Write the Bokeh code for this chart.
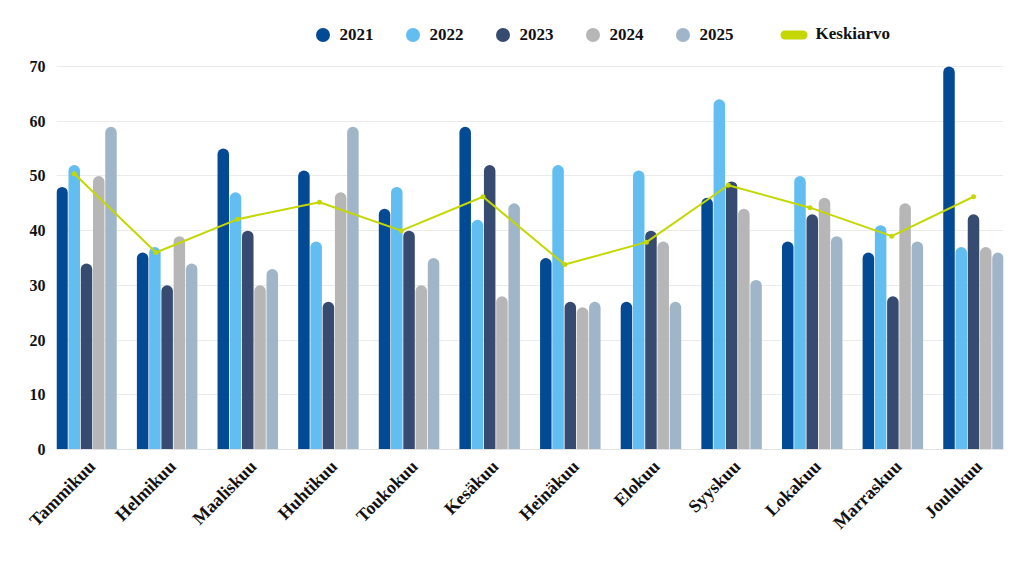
import math
from bokeh.plotting import figure
from bokeh.models import Range1d, FixedTicker, Legend, LegendItem, ColumnDataSource
from bokeh.embed import file_html
from bokeh.resources import INLINE

months = ["Tammikuu", "Helmikuu", "Maaliskuu", "Huhtikuu", "Toukokuu", "Kesäkuu",
          "Heinäkuu", "Elokuu", "Syyskuu", "Lokakuu", "Marraskuu", "Joulukuu"]
years = ["2021", "2022", "2023", "2024", "2025"]
v2021 = [48, 36, 55, 51, 44, 59, 35, 27, 46, 38, 36, 70]
v2022 = [52, 37, 47, 38, 48, 42, 52, 51, 64, 50, 41, 37]
v2023 = [34, 30, 40, 27, 40, 52, 27, 40, 49, 43, 28, 43]
v2024 = [50, 39, 30, 47, 30, 28, 26, 38, 44, 46, 45, 37]
v2025 = [59, 34, 33, 59, 35, 45, 27, 27, 31, 39, 38, 36]
keskiarvo = [50.4, 36.0, 42.1, 45.2, 40.0, 46.2, 33.8, 37.9, 48.3, 44.2, 39.0, 46.2]
yticks = [0, 10, 20, 30, 40, 50, 60, 70]

series = [v2021, v2022, v2023, v2024, v2025]
colors = ["#034a94", "#62bdf0", "#374b70", "#b6b6b6", "#a1b5c8"]
line_color = "#c5d700"
FONT = "Liberation Serif"
NAN = float("nan")

p = figure(output_backend="svg", toolbar_location=None,
           x_range=Range1d(-0.372, 11.372), y_range=Range1d(0, 80.24),
           frame_width=947, frame_height=439,
           min_border_left=56, min_border_right=21, min_border_top=10, min_border_bottom=10)
p.outline_line_color = None
p.background_fill_color = "white"

idx = list(range(len(months)))
pitch = 0.1519
bw = 0.1426
year_items = []
for k, (vals, col, yr) in enumerate(zip(series, colors, years)):
    xs = [i + (k - 2) * pitch for i in idx]
    src = ColumnDataSource(dict(x=xs, top=vals))
    p.vbar(x="x", top="top", bottom=0, width=bw, source=src, fill_color=col,
           line_color=None, border_radius=[6, 6, 0, 0])
    # legend-only renderer (no visible point)
    dummy = p.scatter(x=[0], y=[NAN], marker="circle", size=14, fill_color=col, line_color=None)
    year_items.append(LegendItem(label=yr, renderers=[dummy]))

# average line: spread evenly from the 2022 bar of the first month to the centre of the last
n = len(months)
start = -pitch
lx = [start + i * (n - 1 - start) / (n - 1) for i in idx]
p.line(lx, keskiarvo, line_color=line_color, line_width=2)
p.scatter(lx, keskiarvo, size=5, fill_color=line_color, line_color=None)
dl = p.scatter(x=[0], y=[NAN], marker="dash", size=18, line_color=line_color, line_width=9,
               line_cap="round")

common = dict(orientation="horizontal", label_text_font=FONT, label_text_font_style="bold",
              label_text_font_size="17px", label_text_color="#111111",
              border_line_color=None, background_fill_alpha=0, padding=0, margin=0)
legend1 = Legend(items=year_items, location=(248.5, 397), glyph_width=35, glyph_height=35,
                 label_standoff=0, spacing=21, **common)
legend2 = Legend(items=[LegendItem(label="Keskiarvo", renderers=[dl])], location=(714.5, 392.5),
                 glyph_width=45, glyph_height=45, label_standoff=0, spacing=0, **common)
p.add_layout(legend1, "center")
p.add_layout(legend2, "center")

p.xgrid.grid_line_color = None
p.ygrid.grid_line_color = "#ebebeb"
p.ygrid.grid_line_width = 1
p.yaxis.ticker = FixedTicker(ticks=yticks)
p.yaxis.axis_line_color = None
p.yaxis.major_tick_line_color = None
p.yaxis.major_tick_out = 0
p.yaxis.major_tick_in = 0
p.yaxis.minor_tick_line_color = None
p.yaxis.major_label_text_font = FONT
p.yaxis.major_label_text_font_style = "bold"
p.yaxis.major_label_text_font_size = "16px"
p.yaxis.major_label_text_color = "#111111"
p.yaxis.major_label_standoff = 11

label_shift = 0.07
xticks = [i + label_shift for i in idx]
p.xaxis.ticker = FixedTicker(ticks=xticks)
p.xaxis.major_label_overrides = {t: m for t, m in zip(xticks, months)}
p.xaxis.major_label_orientation = math.pi / 4
p.xaxis.axis_line_color = "#e3e3e3"
p.xaxis.major_tick_line_color = None
p.xaxis.major_tick_out = 0
p.xaxis.major_tick_in = 0
p.xaxis.minor_tick_line_color = None
p.xaxis.major_label_text_font = FONT
p.xaxis.major_label_text_font_style = "bold"
p.xaxis.major_label_text_font_size = "18px"
p.xaxis.major_label_text_color = "#111111"
p.xaxis.major_label_standoff = 14

open("out.html", "w").write(file_html(p, INLINE))
